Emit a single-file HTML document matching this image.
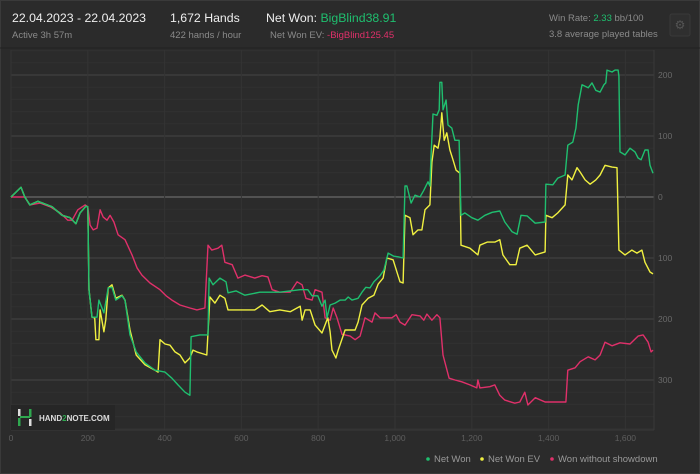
<!DOCTYPE html>
<html><head><meta charset="utf-8"><style>
body{margin:0;background:#2a2a2a;font-family:"Liberation Sans",sans-serif;}
svg{display:block}
</style></head><body>
<svg id="chart" width="700" height="474" xmlns="http://www.w3.org/2000/svg">
<rect x="0" y="0" width="700" height="474" fill="#2b2b2b"/>
<rect x="0.5" y="0.5" width="699" height="473" fill="none" stroke="#3a3a3a"/>
<g>
<text x="12" y="22" fill="#eeeeee" font-size="12.3">22.04.2023 - 22.04.2023</text>
<text x="12" y="38" fill="#8a8a8a" font-size="9.5">Active 3h 57m</text>
<text x="170" y="22" fill="#eeeeee" font-size="12.3">1,672 Hands</text>
<text x="170" y="38" fill="#8a8a8a" font-size="9.5">422 hands / hour</text>
<text x="266" y="22" fill="#eeeeee" font-size="12.3">Net Won: <tspan fill="#1fbf6f">BigBlind38.91</tspan></text>
<text x="270" y="38" fill="#8a8a8a" font-size="9.5">Net Won  EV: <tspan fill="#e0306a">-BigBlind125.45</tspan></text>
<text x="549" y="21" fill="#8a8a8a" font-size="9.5">Win Rate: <tspan fill="#1fbf6f">2.33</tspan> bb/100</text>
<text x="549" y="37" fill="#8a8a8a" font-size="9.5">3.8 average played tables</text>
<rect x="670" y="14" width="20" height="22" rx="2" fill="#2f2f2f" stroke="#3a3a3a"/>
<text x="680" y="29" fill="#555" font-size="12" text-anchor="middle">⚙</text>
</g>
<line x1="0" y1="48" x2="700" y2="48" stroke="#222"/>
<g id="grid"></g>
<g id="series"></g>
<g id="axes"></g>
<g>
<rect x="11" y="405" width="104" height="25" fill="#262626"/>
<rect x="18" y="409" width="2.5" height="7" fill="#ddd"/><rect x="18" y="418" width="2.5" height="8" fill="#2fa84f"/>
<rect x="29" y="409" width="2.5" height="8" fill="#2fa84f"/><rect x="29" y="419" width="2.5" height="7" fill="#ddd"/>
<rect x="20" y="416" width="10" height="2" fill="#2fa84f"/>
<text x="39" y="421" fill="#dddddd" font-size="8" font-weight="bold">HAND<tspan fill="#2fa84f">2</tspan>NOTE.COM</text>
</g>
<g>
<circle cx="428" cy="459" r="1.8" fill="#1fbf6f"/>
<text x="434" y="462" fill="#999" font-size="9.5">Net Won</text>
<circle cx="482" cy="459" r="1.8" fill="#f0f040"/>
<text x="488" y="462" fill="#999" font-size="9.5">Net Won  EV</text>
<circle cx="552" cy="459" r="1.8" fill="#e0306a"/>
<text x="558" y="462" fill="#999" font-size="9.5">Won without showdown</text>
</g>
</svg>
<script>
const xTicks=[0,200,400,600,800,1000,1200,1400,1600];
const xTickLabels=["0","200","400","600","800","1,000","1,200","1,400","1,600"];
const yTicks=[200,100,0,-100,-200,-300];
const yTickLabels=["200","100","0","100","200","300"];
const netWonHands=[0,26,36,49,70,107,133,154,169,180,195,200,203,211,224,229,242,253,263,273,289,297,310,326,349,375,401,419,435,453,466,469,492,513,516,526,544,560,565,586,609,648,700,753,773,784,799,810,818,823,831,844,857,870,878,888,904,914,924,935,945,961,971,982,997,1008,1021,1026,1031,1042,1052,1065,1075,1086,1091,1094,1099,1109,1115,1117,1122,1125,1133,1138,1148,1156,1167,1172,1182,1200,1216,1234,1253,1273,1286,1305,1318,1328,1344,1365,1391,1393,1411,1424,1443,1450,1463,1471,1477,1487,1503,1513,1523,1534,1544,1549,1552,1565,1573,1581,1583,1586,1599,1612,1625,1633,1641,1651,1659,1664,1672];
const netWonValues=[0,16,0,-13,-7,-16,-30,-34,-44,-26,-15,-16,-152,-197,-197,-169,-190,-149,-148,-169,-162,-169,-226,-254,-272,-284,-287,-297,-308,-320,-325,-229,-226,-226,-133,-144,-133,-139,-157,-154,-161,-156,-156,-152,-152,-162,-162,-179,-169,-198,-177,-174,-169,-169,-164,-169,-166,-156,-148,-149,-139,-129,-120,-92,-97,-98,-100,18,18,-10,3,0,11,25,18,69,136,134,143,188,188,143,159,118,113,93,93,-30,-26,-34,-38,-30,-25,-23,-41,-57,-61,-30,-31,-43,-41,21,20,31,36,85,90,113,151,184,179,187,175,172,184,187,208,205,208,208,198,74,69,80,74,64,61,77,77,52,39];
const evHands=[0,26,36,49,70,107,133,154,169,180,195,200,203,211,218,221,229,232,242,247,253,263,273,289,297,310,326,349,375,383,388,401,414,427,440,453,466,474,484,510,518,531,544,557,565,596,635,654,674,700,727,753,758,766,779,792,810,825,831,836,846,852,870,896,904,914,930,945,956,969,979,995,1013,1021,1026,1039,1047,1060,1070,1078,1091,1096,1102,1112,1117,1122,1128,1135,1143,1151,1159,1169,1172,1195,1216,1221,1240,1260,1273,1281,1299,1315,1325,1344,1365,1391,1393,1409,1424,1443,1450,1461,1474,1482,1495,1508,1523,1534,1547,1565,1578,1583,1599,1617,1630,1643,1651,1664,1672];
const evValues=[0,16,0,-13,-7,-16,-30,-34,-44,-26,-15,-16,-152,-197,-198,-234,-234,-185,-221,-201,-149,-144,-166,-161,-169,-218,-259,-275,-284,-287,-234,-241,-243,-254,-259,-272,-264,-251,-254,-259,-164,-174,-161,-166,-185,-185,-185,-177,-188,-185,-188,-179,-202,-185,-185,-210,-223,-198,-221,-251,-264,-251,-218,-218,-205,-177,-166,-161,-143,-133,-100,-103,-139,-141,-30,-34,-62,-54,-54,-21,-13,57,85,80,97,138,93,105,77,61,44,39,-79,-84,-95,-79,-74,-74,-70,-95,-111,-111,-84,-79,-95,-90,-30,-34,-26,-13,36,28,48,41,28,21,28,36,52,49,48,-87,-95,-87,-92,-87,-107,-123,-126];
const wwsdHands=[0,36,49,76,102,128,148,159,174,193,200,206,214,224,232,240,250,258,268,279,297,315,328,341,362,388,404,419,440,466,484,505,513,523,539,549,557,576,591,609,635,654,669,680,700,727,745,758,768,784,792,810,818,831,839,849,862,883,896,909,922,940,948,961,992,1003,1013,1026,1044,1065,1075,1083,1096,1109,1117,1125,1141,1156,1174,1195,1213,1216,1221,1247,1260,1273,1286,1312,1325,1338,1346,1365,1391,1430,1445,1450,1469,1482,1503,1521,1534,1547,1565,1586,1612,1633,1646,1659,1667,1672];
const wwsdValues=[0,0,-13,-10,-16,-26,-38,-38,-21,-13,-16,-46,-54,-51,-21,-33,-38,-30,-41,-62,-70,-95,-116,-128,-141,-152,-162,-169,-177,-182,-185,-182,-79,-87,-84,-79,-107,-111,-133,-128,-133,-129,-131,-152,-156,-156,-139,-144,-166,-169,-152,-156,-198,-202,-182,-198,-225,-228,-234,-228,-198,-205,-190,-198,-198,-193,-205,-210,-193,-195,-202,-192,-202,-193,-198,-259,-297,-300,-303,-308,-313,-300,-313,-311,-308,-325,-333,-338,-336,-320,-341,-329,-336,-336,-336,-284,-280,-270,-262,-267,-259,-238,-244,-239,-241,-228,-226,-238,-254,-251];

const NS='http://www.w3.org/2000/svg';
const X0=11, XS=0.384, Y0=197, YS=0.61;
const PL=11, PR=654, PT=50, PB=430;
function xs(h){return X0+h*XS;}
function ys(v){return Y0-v*YS;}
function mk(tag,attrs,parent){const e=document.createElementNS(NS,tag);for(const k in attrs)e.setAttribute(k,attrs[k]);parent.appendChild(e);return e;}
const grid=document.getElementById('grid'), axes=document.getElementById('axes'), series=document.getElementById('series');
for(let v=-380;v<=240;v+=20){
  const y=ys(v); if(y<PT||y>PB)continue;
  const major=v%100===0;
  const l=mk('line',{x1:PL,x2:PR,y1:y,y2:y,stroke:major?(v===0?'#7a7a7a':'#454545'):'#313131','stroke-width':1},grid);
  
  
}
xTicks.forEach((t,i)=>{
  const x=xs(t);
  const l=mk('line',{x1:x,x2:x,y1:PT,y2:PB,stroke:'#343434'},grid);
  
  
  const tx=mk('text',{x:x,y:441,fill:'#5e5e5e','font-size':'8.5','text-anchor':'middle','font-family':'Liberation Sans'},axes);
  tx.textContent=xTickLabels[i];
  
  
});
const rl=mk('line',{x1:PR,x2:PR,y1:PT,y2:PB,stroke:'#3a3a3a'},axes);


const bl=mk('line',{x1:PL,x2:PR,y1:PB,y2:PB,stroke:'#3a3a3a'},axes);


yTicks.forEach((t,i)=>{
  const tx=mk('text',{x:658,y:ys(t)+3,fill:'#6a6a6a','font-size':'8.5','font-family':'Liberation Sans'},axes);
  tx.textContent=yTickLabels[i];
  
  
});
function draw(hands,vals,color,name){
  const pts=hands.map((h,i)=>xs(h).toFixed(1)+','+ys(vals[i]).toFixed(1)).join(' ');
  const p=mk('polyline',{points:pts,fill:'none',stroke:color,'stroke-width':1.4,'stroke-linejoin':'round'},series);
  
  
}
draw(wwsdHands,wwsdValues,'#e0306a','line-won-without-showdown');
draw(evHands,evValues,'#f0f040','line-net-won-ev');
draw(netWonHands,netWonValues,'#1fbf6f','line-net-won');
</script>
</body></html>
